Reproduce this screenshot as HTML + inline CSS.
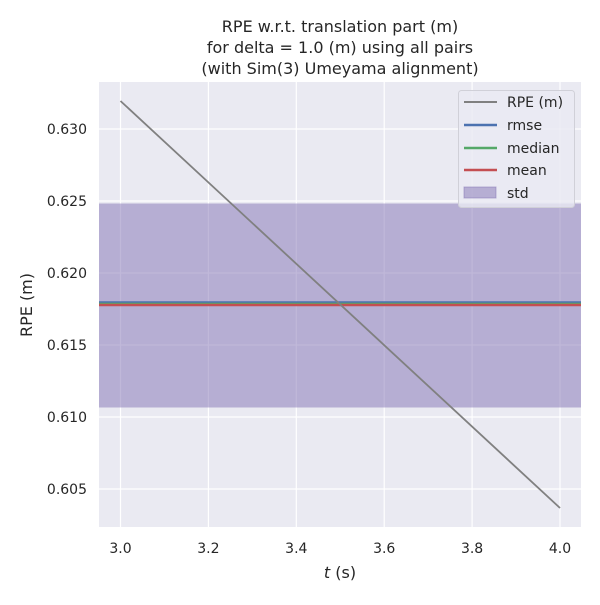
<!DOCTYPE html>
<html><head><style>body{margin:0;background:#fff}</style></head><body>
<svg width="600" height="600" xmlns="http://www.w3.org/2000/svg" font-family="'DejaVu Sans', sans-serif" fill="#262626">
<rect x="99" y="82" width="482" height="445" fill="#eaeaf2"/>
<g stroke="#fff" stroke-width="1.2">
<line x1="120.5" y1="82" x2="120.5" y2="527"/><line x1="208.4" y1="82" x2="208.4" y2="527"/><line x1="296.3" y1="82" x2="296.3" y2="527"/><line x1="384.2" y1="82" x2="384.2" y2="527"/><line x1="472.1" y1="82" x2="472.1" y2="527"/><line x1="560" y1="82" x2="560" y2="527"/>
<line x1="99" y1="489" x2="581" y2="489"/><line x1="99" y1="417" x2="581" y2="417"/><line x1="99" y1="345" x2="581" y2="345"/><line x1="99" y1="273" x2="581" y2="273"/><line x1="99" y1="201" x2="581" y2="201"/><line x1="99" y1="129" x2="581" y2="129"/>
</g>
<rect x="99" y="203.5" width="482" height="204" fill="#8172b3" fill-opacity="0.5"/>
<line x1="99" y1="302.5" x2="581" y2="302.5" stroke="#4c72b0" stroke-width="2.5"/>
<line x1="99" y1="304" x2="581" y2="304" stroke="#55a868" stroke-width="2.5"/>
<line x1="99" y1="305" x2="581" y2="305" stroke="#c44e52" stroke-width="2.5"/>
<line x1="120.5" y1="101" x2="560" y2="508" stroke="#808080" stroke-width="1.8"/>
<g font-size="14" text-anchor="middle">
<text x="120.5" y="553">3.0</text><text x="208.4" y="553">3.2</text><text x="296.3" y="553">3.4</text><text x="384.2" y="553">3.6</text><text x="472.1" y="553">3.8</text><text x="560" y="553">4.0</text>
</g>
<g font-size="14" text-anchor="end">
<text x="87" y="494">0.605</text><text x="87" y="422">0.610</text><text x="87" y="350">0.615</text><text x="87" y="278">0.620</text><text x="87" y="206">0.625</text><text x="87" y="134">0.630</text>
</g>
<text x="340" y="578" font-size="16" text-anchor="middle"><tspan font-style="italic">t</tspan> (s)</text>
<text transform="translate(32,305) rotate(-90)" font-size="16" text-anchor="middle">RPE (m)</text>
<g font-size="16" text-anchor="middle">
<text x="340" y="32">RPE w.r.t. translation part (m)</text>
<text x="340" y="53">for delta = 1.0 (m) using all pairs</text>
<text x="340" y="74">(with Sim(3) Umeyama alignment)</text>
</g>
<rect x="458.5" y="90.5" width="116" height="117" rx="3" fill="#eaeaf2" fill-opacity="0.8" stroke="#d0d0d8"/>
<line x1="464" y1="102" x2="497" y2="102" stroke="#808080" stroke-width="2"/>
<line x1="464" y1="125" x2="497" y2="125" stroke="#4c72b0" stroke-width="2.5"/>
<line x1="464" y1="148" x2="497" y2="148" stroke="#55a868" stroke-width="2.5"/>
<line x1="464" y1="170" x2="497" y2="170" stroke="#c44e52" stroke-width="2.5"/>
<rect x="464" y="187" width="32" height="11" fill="#8172b3" fill-opacity="0.5" stroke="#8172b3" stroke-opacity="0.5"/>
<g font-size="14">
<text x="507" y="107">RPE (m)</text><text x="507" y="130">rmse</text><text x="507" y="153">median</text><text x="507" y="175">mean</text><text x="507" y="198">std</text>
</g>
</svg>
</body></html>
